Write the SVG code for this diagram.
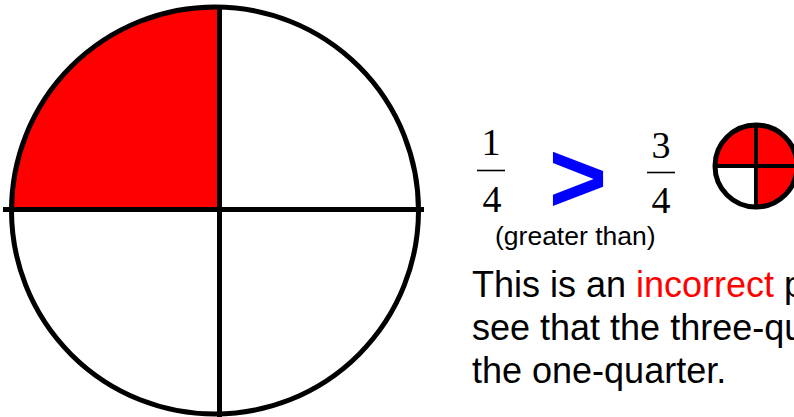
<svg xmlns="http://www.w3.org/2000/svg" width="794" height="417" viewBox="0 0 794 417">
<style>
.ln{stroke:#000;stroke-width:5;fill:none}
.ln2{stroke:#000;stroke-width:4;fill:none}
.frac{font-family:"Liberation Serif","Times New Roman",serif;font-size:38px;fill:#000;text-anchor:middle}
.txt{font-family:"Liberation Sans",Arial,sans-serif;fill:#000}
.red{fill:#ff0000}
</style>
<rect width="794" height="417" fill="#fff"/>
<g id="big-circle">
<path class="red" d="M219.5 209.5 L11.5 209.5 A203.5 203.5 0 0 1 219.5 7 Z"/>
<circle class="ln" cx="215" cy="210.5" r="203.5"/>
<line class="ln" x1="3" y1="209.5" x2="424" y2="209.5"/>
<line class="ln" x1="219.5" y1="6" x2="219.5" y2="417"/>
</g>
<g id="fraction-one-quarter">
<text class="frac" x="491" y="155">1</text>
<line x1="477" y1="170.5" x2="505" y2="170.5" stroke="#000" stroke-width="1.6"/>
<text class="frac" x="492" y="212">4</text>
</g>
<g id="greater-than">
<text x="578" y="212" font-family="'Liberation Sans',Arial,sans-serif" font-weight="bold" font-size="100" fill="#0000ff" text-anchor="middle">&gt;</text>
<text class="txt" x="495" y="245" font-size="26.5">(greater than)</text>
</g>
<g id="fraction-three-quarters">
<text class="frac" x="661" y="158">3</text>
<line x1="647" y1="172.5" x2="675" y2="172.5" stroke="#000" stroke-width="1.6"/>
<text class="frac" x="661" y="213">4</text>
</g>
<g id="small-circle">
<circle class="red" cx="756" cy="166" r="41"/>
<path fill="#fff" d="M756 166 L715 166 A41 41 0 0 0 756 207 Z"/>
<line class="ln2" x1="715" y1="166" x2="797" y2="166"/>
<line class="ln2" x1="756" y1="125" x2="756" y2="207"/>
<circle class="ln" cx="756" cy="166" r="41"/>
</g>
<g id="explanation">
<text class="txt" x="472" y="297" font-size="36">This is an <tspan fill="#ff0000">incorrect</tspan> p</text>
<text class="txt" x="472" y="340" font-size="36">see that the three-qu</text>
<text class="txt" x="472" y="383" font-size="36">the one-quarter.</text>
</g>
</svg>
